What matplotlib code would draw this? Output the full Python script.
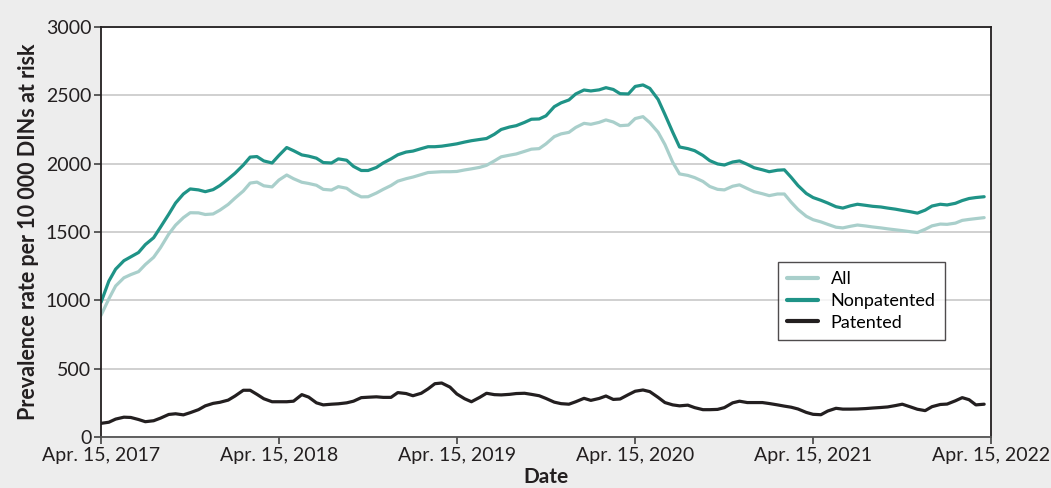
"""
Prevalence rate per 10 000 DINs at risk: all, nonpatented and patented drugs.
"""
import matplotlib
matplotlib.use("Agg")
import matplotlib.pyplot as plt
import matplotlib.dates as mdates
import pandas as pd

# semi-monthly sampling, Apr 15 2017 .. Apr 1 2022
dates = pd.date_range("2017-04-15", "2022-04-01", freq="SMS")

all_rate = [
    890, 1010, 1105, 1165, 1188, 1210, 1262, 1315, 1385, 1485,
    1550, 1605, 1641, 1640, 1628, 1632, 1660, 1702, 1748, 1800,
    1858, 1865, 1838, 1830, 1880, 1917, 1890, 1864, 1855, 1842,
    1812, 1807, 1832, 1820, 1785, 1757, 1758, 1785, 1812, 1840,
    1872, 1890, 1902, 1920, 1935, 1938, 1941, 1941, 1943, 1954,
    1962, 1973, 1988, 2020, 2050, 2062, 2071, 2090, 2106, 2110,
    2145, 2198, 2218, 2229, 2265, 2295, 2288, 2302, 2320, 2305,
    2278, 2282, 2330, 2344, 2300, 2230, 2140, 2010, 1925, 1914,
    1898, 1870, 1833, 1812, 1808, 1835, 1845, 1818, 1795, 1780,
    1766, 1778, 1778, 1718, 1665, 1615, 1590, 1574, 1556, 1535,
    1530, 1542, 1551, 1544, 1537, 1530, 1523, 1516, 1510, 1502,
    1496, 1520, 1545, 1558, 1556, 1565, 1585, 1592, 1598, 1605,
]

nonpatented_rate = [
    985, 1140, 1228, 1290, 1318, 1350, 1408, 1458, 1535, 1630,
    1712, 1778, 1815, 1808, 1795, 1810, 1840, 1888, 1930, 1990,
    2048, 2052, 2020, 2005, 2060, 2118, 2095, 2064, 2055, 2040,
    2008, 2005, 2035, 2025, 1980, 1950, 1950, 1972, 2005, 2035,
    2065, 2085, 2092, 2110, 2124, 2124, 2128, 2137, 2145, 2158,
    2168, 2177, 2184, 2215, 2250, 2268, 2278, 2302, 2325, 2327,
    2350, 2417, 2445, 2466, 2510, 2539, 2532, 2540, 2556, 2543,
    2512, 2510, 2565, 2576, 2551, 2470, 2360, 2230, 2122, 2110,
    2095, 2060, 2022, 1998, 1990, 2012, 2020, 1995, 1970, 1955,
    1941, 1952, 1955, 1900, 1840, 1782, 1752, 1732, 1712, 1685,
    1675, 1692, 1703, 1695, 1688, 1683, 1675, 1667, 1658, 1648,
    1638, 1660, 1690, 1703, 1698, 1710, 1730, 1745, 1752, 1758,
]

patented_rate = [
    100, 108, 131, 145, 143, 128, 112, 119, 138, 165,
    170, 162, 178, 200, 228, 246, 254, 270, 300, 342,
    342, 312, 280, 258, 258, 258, 262, 310, 292, 250,
    235, 240, 243, 250, 262, 288, 291, 294, 290, 290,
    325, 318, 302, 320, 352, 390, 395, 365, 315, 280,
    258, 290, 320, 310, 308, 312, 318, 320, 312, 302,
    282, 255, 244, 240, 258, 283, 268, 282, 300, 275,
    278, 310, 335, 344, 332, 290, 252, 235, 228, 233,
    215, 200, 200, 202, 215, 250, 262, 252, 252, 252,
    245, 235, 226, 218, 205, 180, 166, 163, 190, 210,
    204, 204, 205, 208, 212, 216, 220, 230, 240, 220,
    203, 193, 222, 238, 241, 265, 288, 273, 235, 240,
]

tick_dates = pd.to_datetime(["2017-04-15", "2018-04-15", "2019-04-15",
                             "2020-04-15", "2021-04-15", "2022-04-15"])
y_ticks = [0, 500, 1000, 1500, 2000, 2500, 3000]

plt.rcParams["font.family"] = ["Lato", "DejaVu Sans"]

fig = plt.figure(figsize=(10.51, 4.88), dpi=100, facecolor="#ededed")
ax = fig.add_axes([0.0961, 0.1045, 0.8468, 0.8402], facecolor="white")

ax.plot(dates, all_rate, color="#a9cfcb", lw=2.3, label="All", solid_capstyle="round")
ax.plot(dates, nonpatented_rate, color="#1f9387", lw=2.3, label="Nonpatented",
        solid_capstyle="round")
ax.plot(dates, patented_rate, color="#231f20", lw=2.3, label="Patented",
        solid_capstyle="round")

ax.set_xlim(tick_dates[0], tick_dates[-1])
ax.set_ylim(0, 3000)
ax.set_xticks(tick_dates)
ax.xaxis.set_major_formatter(mdates.DateFormatter("Apr. 15, %Y"))
ax.set_yticks(y_ticks)
ax.yaxis.grid(True, color="#c8c8c8", lw=1.2)
ax.set_axisbelow(True)

ax.tick_params(axis="both", labelsize=14, colors="#333333", length=5, width=1.1,
               pad=2)
ax.tick_params(axis="y", labelcolor="#231f20")
ax.tick_params(axis="x", labelcolor="#231f20")

for side in ["top", "right", "left"]:
    ax.spines[side].set_color("#231f20")
    ax.spines[side].set_linewidth(1.3)
ax.spines["bottom"].set_color("#555555")
ax.spines["bottom"].set_linewidth(1.3)

ax.set_xlabel("Date", fontsize=15, fontweight="bold", color="#231f20", labelpad=2)
ax.set_ylabel("Prevalence rate per 10 000 DINs at risk", fontsize=15.5,
              fontweight="bold", color="#231f20", labelpad=5)

leg = ax.legend(loc="lower left", bbox_to_anchor=(0.761, 0.237), fontsize=13,
                frameon=True, fancybox=False, handlelength=1.7, borderpad=0.5,
                labelspacing=0.32, borderaxespad=0, handletextpad=0.7)
leg.get_frame().set_edgecolor("#231f20")
leg.get_frame().set_linewidth(1.0)
for line in leg.get_lines():
    line.set_linewidth(3)

fig.savefig("out.png", dpi=100, facecolor=fig.get_facecolor())
